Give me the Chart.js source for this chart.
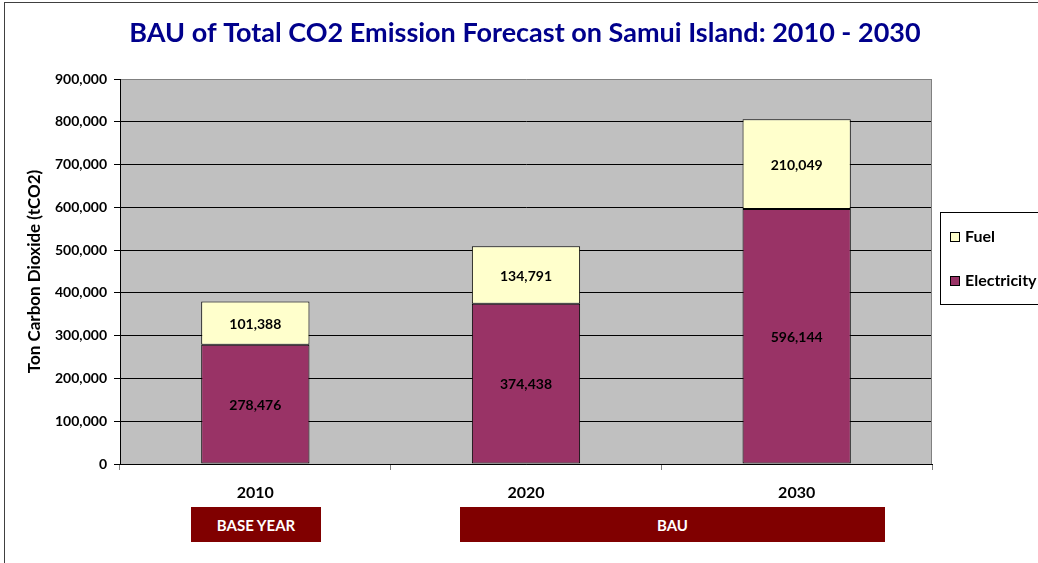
<!DOCTYPE html>
<html><head><meta charset="utf-8">
<script src="https://cdn.jsdelivr.net/npm/chart.js@4.4.1/dist/chart.umd.min.js"></script>
<style>
html,body{margin:0;padding:0;background:#fff;overflow:hidden}
#wrap{position:relative;width:1038px;height:563px;overflow:hidden}
#frame{position:absolute;left:4px;top:2px;width:1100px;height:600px;border:1px solid #404040;box-sizing:border-box}
canvas{position:absolute;left:0;top:0}
.tag{position:absolute;background:#800000;color:#fff;font:bold 15px Lato,"Open Sans",sans-serif;display:flex;align-items:center;justify-content:center}
</style></head><body>
<div id="wrap">
<div id="frame"></div>
<canvas id="c" width="1038" height="563"></canvas>
<div class="tag" style="left:191px;top:507px;width:130px;height:35px">BASE YEAR</div>
<div class="tag" style="left:460px;top:507px;width:425px;height:35px">BAU</div>
</div>
<script>
const categories = ['2010', '2020', '2030'];
const electricity = [278476, 374438, 596144];
const fuel = [101388, 134791, 210049];
const yMax = 900000;
const yStep = 100000;

const FONT = 'Lato, "Open Sans", sans-serif';

const bgPlugin = {
  id: 'plotBg',
  beforeDraw(chart) {
    const {ctx, chartArea: a} = chart;
    ctx.save();
    ctx.fillStyle = '#C0C0C0';
    ctx.fillRect(a.left, a.top, a.right - a.left, a.bottom - a.top);
    ctx.restore();
  },
  beforeDatasetsDraw(chart) {
    const {ctx, chartArea: a} = chart;
    ctx.save();
    ctx.strokeStyle = '#808080';
    ctx.lineWidth = 1;
    ctx.beginPath();
    ctx.moveTo(Math.round(a.right) - 0.5, a.top);
    ctx.lineTo(Math.round(a.right) - 0.5, a.bottom);
    ctx.stroke();
    ctx.restore();
  }
};

const labelPlugin = {
  id: 'segLabels',
  afterDatasetsDraw(chart) {
    const ctx = chart.ctx;
    ctx.save();
    ctx.font = 'bold 14px ' + FONT;
    ctx.fillStyle = '#000';
    ctx.textAlign = 'center';
    ctx.textBaseline = 'middle';
    chart.data.datasets.forEach((ds, di) => {
      const meta = chart.getDatasetMeta(di);
      meta.data.forEach((el, i) => {
        const p = el.getProps(['x', 'y', 'base'], true);
        ctx.fillText(ds.data[i].toLocaleString('en-US'), p.x, (p.y + p.base) / 2 + 1);
      });
    });
    ctx.restore();
  }
};

const legendPlugin = {
  id: 'boxLegend',
  afterDraw(chart) {
    const {ctx, chartArea: a} = chart;
    const x0 = Math.round(a.right) + 8, y0 = 212;
    ctx.save();
    ctx.fillStyle = '#fff';
    ctx.fillRect(x0, y0, 200, 92);
    ctx.strokeStyle = '#000';
    ctx.lineWidth = 1;
    ctx.strokeRect(x0 + 0.5, y0 + 0.5, 200, 92);
    const items = chart.data.datasets.slice().reverse();
    ctx.font = 'bold 16px ' + FONT;
    ctx.textBaseline = 'middle';
    ctx.textAlign = 'left';
    items.forEach((ds, i) => {
      const cy = y0 + 25 + i * 44;
      ctx.fillStyle = ds.backgroundColor;
      ctx.fillRect(x0 + 10, cy - 5, 10, 10);
      ctx.strokeRect(x0 + 10.5, cy - 4.5, 9, 9);
      ctx.fillStyle = '#000';
      ctx.fillText(ds.label, x0 + 25, cy);
    });
    ctx.restore();
  }
};

new Chart(document.getElementById('c'), {
  type: 'bar',
  data: {
    labels: categories,
    datasets: [
      {label: 'Electricity', data: electricity, backgroundColor: '#993366', borderColor: '#000', borderWidth: 1, borderSkipped: false},
      {label: 'Fuel', data: fuel, backgroundColor: '#FFFFCC', borderColor: '#000', borderWidth: 1, borderSkipped: false}
    ]
  },
  plugins: [bgPlugin, labelPlugin, legendPlugin],
  options: {
    responsive: false,
    devicePixelRatio: 1,
    animation: false,
    layout: {padding: {left: 12, right: 0, top: 0, bottom: 0}},
    datasets: {bar: {categoryPercentage: 1, barPercentage: 0.4}},
    plugins: {
      legend: {display: false},
      tooltip: {enabled: false},
      title: {
        display: true,
        text: 'BAU of Total CO2 Emission Forecast on Samui Island: 2010 - 2030',
        color: '#00008C',
        font: {family: FONT, size: 27, weight: 'bold'},
        padding: {top: 16.8, bottom: 29.8}
      }
    },
    scales: {
      x: {
        stacked: true,
        grid: {offset: true, drawOnChartArea: false, drawTicks: true, tickLength: 6, tickColor: '#808080'},
        border: {color: '#000', width: 1},
        ticks: {color: '#000', font: {family: FONT, size: 16, weight: 'bold'}, padding: 13.4},
        afterFit(s) { s.height = 99; }
      },
      y: {
        stacked: true,
        min: 0, max: yMax,
        grid: {
          color: c => (c.tick && c.tick.value === yMax) ? '#808080' : '#000',
          tickColor: '#000', tickLength: 6, lineWidth: 1
        },
        border: {color: '#000', width: 1},
        ticks: {
          stepSize: yStep, color: '#000', padding: 7,
          font: {family: FONT, size: 14, weight: 'bold'},
          callback: v => v.toLocaleString('en-US')
        },
        title: {
          display: true, text: 'Ton Carbon Dioxide (tCO2)', color: '#000',
          font: {family: FONT, size: 17, weight: 'bold'},
          padding: {top: 12.8, bottom: 0}
        },
        afterFit(s) { s.width = 108; }
      },
      y2: {
        type: 'linear', position: 'right', display: true,
        grid: {display: false}, ticks: {display: false}, border: {display: false},
        afterFit(s) { s.width = 106; }
      }
    }
  }
});
</script>
</body></html>
